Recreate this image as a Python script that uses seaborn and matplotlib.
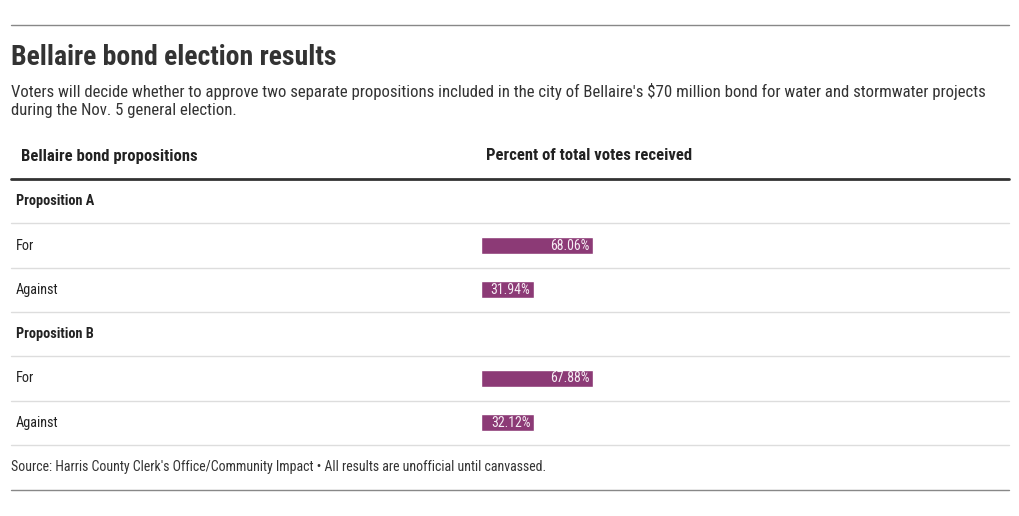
import matplotlib
matplotlib.use("Agg")
import matplotlib.pyplot as plt
import seaborn as sns
import pandas as pd
from matplotlib.lines import Line2D

# ---- data ----
row_ids = ["A", "A-For", "A-Against", "B", "B-For", "B-Against"]
row_labels = ["Proposition A", "For", "Against", "Proposition B", "For", "Against"]
row_is_header = [True, False, False, True, False, False]
bar_rows = ["A-For", "A-Against", "B-For", "B-Against"]
bar_values = [68.06, 31.94, 67.88, 32.12]
bar_texts = ["68.06%", "31.94%", "67.88%", "32.12%"]

title = "Bellaire bond election results"
subtitle = ("Voters will decide whether to approve two separate propositions included in the city of Bellaire's "
            "$70 million bond for water and stormwater projects\nduring the Nov. 5 general election.")
col1 = "Bellaire bond propositions"
col2 = "Percent of total votes received"
source = "Source: Harris County Clerk's Office/Community Impact \u2022 All results are unofficial until canvassed."

sns.set_style("white")
plt.rcParams["font.family"] = ["Roboto Condensed", "Liberation Sans Narrow", "Roboto", "DejaVu Sans"]

W, H = 1020, 516
fig = plt.figure(figsize=(W / 100, H / 100), dpi=100)

def fx(px):
    return px / W

def fy(py):
    return 1 - py / H

# axes for table body
ax = fig.add_axes([fx(11), fy(445), fx(998), fy(179) - fy(445)])
df = pd.DataFrame({"row": bar_rows, "value": bar_values})
sns.barplot(data=df, x="value", y="row", order=row_ids, orient="h",
            color="#8c3a76", saturation=1, width=0.385, ax=ax, errorbar=None)
# map 0 -> px 481, 100 -> px 646
ppu = 165 / 100
ax.set_xlim(-(481 - 11) / ppu, (1009 - 481) / ppu)
ax.set_ylim(5.5, -0.5)
ax.set_xlabel("")
ax.set_ylabel("")
ax.set_xticks([])
ax.set_yticks([])
for s in ax.spines.values():
    s.set_visible(False)

for r, v, t in zip(bar_rows, bar_values, bar_texts):
    yi = row_ids.index(r)
    ax.text(v - 3.5 / ppu, yi, t, ha="right", va="center", color="#f6eef4", fontsize=10)

trans = ax.get_yaxis_transform()
for yi, (lab, hd) in enumerate(zip(row_labels, row_is_header)):
    ax.text(5 / 998, yi, lab, transform=trans,
            ha="left", va="center", fontsize=10.3, color="#222222",
            fontweight="bold" if hd else "normal")
# row separators
for yi in range(6):
    ax.axhline(yi + 0.5, color="#dddddd", lw=1, clip_on=False)
ax.axhline(-0.5, color="#333333", lw=2, clip_on=False)

# lines top and bottom
fig.add_artist(Line2D([fx(11), fx(1009)], [fy(25), fy(25)], color="#888888", lw=1))
fig.add_artist(Line2D([fx(11), fx(1009)], [fy(490), fy(490)], color="#888888", lw=1))

fig.text(fx(11), fy(65), title, ha="left", va="baseline", fontsize=20, fontweight="bold", color="#333333")
fig.text(fx(11), fy(100), subtitle, ha="left", va="center", fontsize=12.1, color="#333333", linespacing=1.25)
fig.text(fx(21), fy(156), col1, ha="left", va="center", fontsize=12, fontweight="bold", color="#222222")
fig.text(fx(486), fy(156), col2, ha="left", va="center", fontsize=12, fontweight="bold", color="#222222")
fig.text(fx(11), fy(467), source, ha="left", va="center", fontsize=10, color="#333333")

fig.savefig("out.png", dpi=100, facecolor="white")
